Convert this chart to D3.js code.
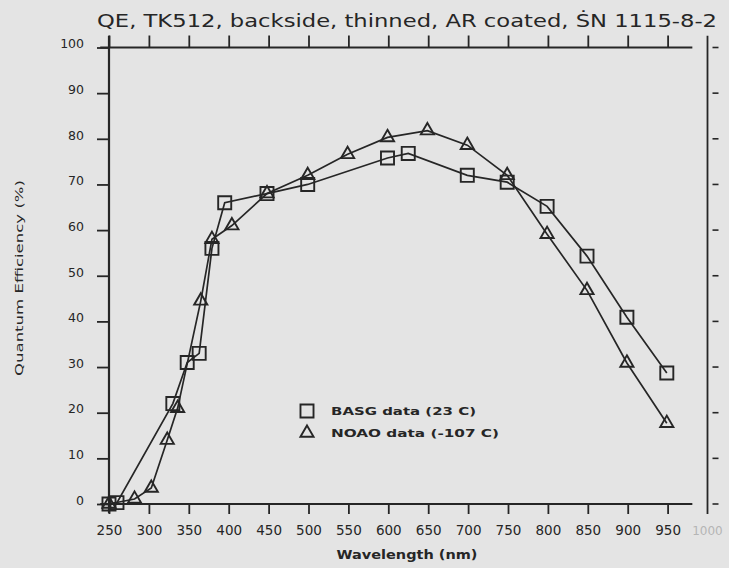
<!DOCTYPE html>
<html>
<head>
<meta charset="utf-8">
<script src="https://cdn.jsdelivr.net/npm/d3@7/dist/d3.min.js"></script>
<style>
  html, body { margin: 0; padding: 0; background: #e4e4e4; }
  svg { display: block; }
  text { font-family: "DejaVu Sans", sans-serif; fill: #262626; }
</style>
</head>
<body>
<svg id="chart" width="729" height="568"></svg>
<script>
// ---- data ----
const titleText = "QE, TK512, backside, thinned, AR coated, \u1E60N 1115-8-2";
const xTitle = "Wavelength (nm)";
const yTitle = "Quantum Efficiency (%)";

const basgWavelength = [250, 260, 330, 348, 363, 379, 395, 448, 499, 599, 625, 699, 749, 799, 849, 899, 949];
const basgQE         = [0, 0.3, 22, 31, 33, 56, 66, 68, 70, 75.8, 76.8, 72, 70.5, 65.2, 54.3, 40.9, 28.7];

const noaoWavelength = [250, 282, 303, 323, 336, 365, 379, 404, 448, 499, 549, 599, 649, 699, 749, 799, 849, 899, 949];
const noaoQE         = [0, 1.1, 3.5, 14, 21, 44.5, 58, 61, 68, 72, 76.6, 80.3, 81.8, 78.6, 72, 59.1, 46.8, 30.9, 17.7];

const xTicks = [250, 300, 350, 400, 450, 500, 550, 600, 650, 700, 750, 800, 850, 900, 950];
const xFaintTick = [1000];
const yTicks = [0, 10, 20, 30, 40, 50, 60, 70, 80, 90, 100];

const legendLabels = ["BASG data (23 C)", "NOAO data (-107 C)"];

// ---- drawing ----
const svg = d3.select("#chart");
const ink = "#262626";

const x = d3.scaleLinear().domain([250, 1000]).range([109, 707.5]);
const y = d3.scaleLinear().domain([0, 100]).range([504, 47.5]);

// title
svg.append("text")
  .attr("x", 97).attr("y", 27)
  .attr("font-size", 17)
  .attr("textLength", 620).attr("lengthAdjust", "spacingAndGlyphs")
  .text(titleText);

// bottom axis
const gx = svg.append("g").attr("transform", `translate(0,${y(0)})`)
  .call(d3.axisBottom(x).tickValues(xTicks).tickSize(10).tickPadding(11).tickFormat(d3.format("d")));
gx.select(".domain").remove();
gx.selectAll(".tick line").attr("stroke", ink).attr("stroke-width", 1.8);
gx.selectAll(".tick text").attr("font-size", 13.5).attr("fill", ink).attr("font-family", "DejaVu Sans");
svg.append("line")
  .attr("x1", x(239)).attr("x2", x(981)).attr("y1", y(0)).attr("y2", y(0))
  .attr("stroke", ink).attr("stroke-width", 2);
// faint 1000 label
svg.selectAll(".faint").data(xFaintTick).enter().append("text")
  .attr("class", "faint")
  .attr("x", d => x(d)).attr("y", 535)
  .attr("text-anchor", "middle").attr("font-size", 12)
  .style("fill", "#b5b5b5")
  .text(d => d);

// top border with upward ticks
const gt = svg.append("g").attr("transform", `translate(0,${y(100)})`)
  .call(d3.axisTop(x).tickValues(xTicks).tickSize(12).tickFormat(""));
gt.select(".domain").remove();
gt.selectAll(".tick line").attr("stroke", ink).attr("stroke-width", 1.8);
svg.append("line")
  .attr("x1", x(239)).attr("x2", x(981)).attr("y1", y(100)).attr("y2", y(100))
  .attr("stroke", ink).attr("stroke-width", 2);

// left axis
const gy = svg.append("g").attr("transform", `translate(${x(250)},0)`)
  .call(d3.axisLeft(y).tickValues(yTicks).tickSize(12).tickPadding(13));
gy.select(".domain").remove();
gy.selectAll(".tick line").attr("stroke", ink).attr("stroke-width", 1.8);
gy.selectAll(".tick text").attr("font-size", 12.5).attr("dy", "0.02em").attr("fill", ink).attr("font-family", "DejaVu Sans");
svg.append("line")
  .attr("x1", x(250)).attr("x2", x(250)).attr("y1", y(102.6)).attr("y2", y(-2))
  .attr("stroke", ink).attr("stroke-width", 2.2);

// right axis (line at 1000 nm, detached ticks)
svg.append("line")
  .attr("x1", x(1000)).attr("x2", x(1000)).attr("y1", y(102.6)).attr("y2", y(-2.2))
  .attr("stroke", ink).attr("stroke-width", 1.8);
svg.selectAll(".rtick").data(yTicks).enter().append("line")
  .attr("class", "rtick")
  .attr("x1", x(1000) + 5).attr("x2", x(1000) + 11)
  .attr("y1", d => y(d)).attr("y2", d => y(d))
  .attr("stroke", ink).attr("stroke-width", 1.6);

// axis titles
svg.append("text")
  .attr("x", 407).attr("y", 559)
  .attr("text-anchor", "middle").attr("font-size", 12.5).attr("font-weight", "bold")
  .attr("textLength", 141).attr("lengthAdjust", "spacingAndGlyphs")
  .text(xTitle);
svg.append("text")
  .attr("transform", "translate(23,278) rotate(-90)")
  .attr("text-anchor", "middle").attr("font-size", 11)
  .attr("textLength", 196).attr("lengthAdjust", "spacingAndGlyphs")
  .text(yTitle);

// series
const line = d3.line().x(d => x(d[0])).y(d => y(d[1]));
const basg = basgWavelength.map((w, i) => [w, basgQE[i]]);
const noao = noaoWavelength.map((w, i) => [w, noaoQE[i]]);

svg.append("path").datum(basg).attr("d", line)
  .attr("fill", "none").attr("stroke", ink).attr("stroke-width", 1.7);
svg.append("path").datum(noao).attr("d", line)
  .attr("fill", "none").attr("stroke", ink).attr("stroke-width", 1.7);

const sq = d3.symbol().type(d3.symbolSquare).size(170);
const tri = d3.symbol().type(d3.symbolTriangle).size(75);

svg.selectAll(".sq").data(basg).enter().append("path")
  .attr("class", "sq")
  .attr("transform", d => `translate(${x(d[0])},${y(d[1])})`)
  .attr("d", sq).attr("fill", "none").attr("stroke", ink).attr("stroke-width", 1.9);
svg.selectAll(".tri").data(noao).enter().append("path")
  .attr("class", "tri")
  .attr("transform", d => `translate(${x(d[0])},${y(d[1])})`)
  .attr("d", tri).attr("fill", "none").attr("stroke", ink).attr("stroke-width", 1.9);

// legend
const legendSymbols = [sq, tri];
const legendWidths = [145, 168];
const lg = svg.append("g");
legendLabels.forEach((lab, i) => {
  const yy = 411 + i * 22;
  lg.append("path").attr("transform", `translate(307,${yy})`)
    .attr("d", legendSymbols[i]).attr("fill", "none").attr("stroke", ink).attr("stroke-width", 1.9);
  lg.append("text").attr("x", 331).attr("y", yy + 4)
    .attr("font-size", 11).attr("font-weight", "bold")
    .attr("textLength", legendWidths[i]).attr("lengthAdjust", "spacingAndGlyphs")
    .text(lab);
});
</script>
</body>
</html>
